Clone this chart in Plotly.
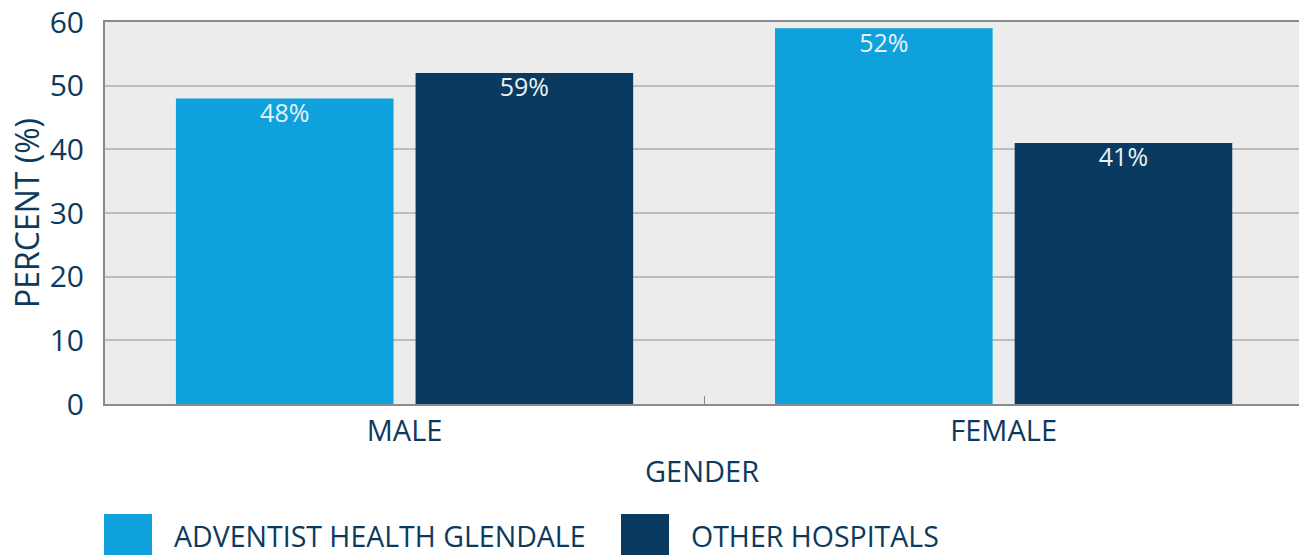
import plotly.graph_objects as go

categories = ["MALE", "FEMALE"]
series_names = ["ADVENTIST HEALTH GLENDALE", "OTHER HOSPITALS"]
adventist_values = [48, 59]
other_values = [52, 41]
adventist_labels = ["48%", "52%"]
other_labels = ["59%", "41%"]
y_ticks = [0, 10, 20, 30, 40, 50, 60]

colors = ["#0ea1dc", "#0a3a5f"]
text_color = "#0d3a5c"
font_family = "Open Sans, sans-serif"

W, H = 1299, 555
L, R, T, B = 105, 0, 22, 151
PW, PH = W - L - R, H - T - B

fig = go.Figure()
for gi, (name, vals, col) in enumerate([
    (series_names[0], adventist_values, colors[0]),
    (series_names[1], other_values, colors[1]),
]):
    fig.add_trace(go.Bar(
        x=categories, y=vals, name=name, marker_color=col,
        marker_line_width=0, offsetgroup=str(gi),
        showlegend=False,
    ))
for gi, (vals, labels) in enumerate([
    (adventist_values, adventist_labels),
    (other_values, other_labels),
]):
    fig.add_trace(go.Scatter(
        x=categories, y=vals, mode="markers+text", text=labels,
        textposition="bottom center", offsetgroup=str(gi),
        marker=dict(size=6, opacity=0),
        textfont=dict(color="#e9f1f6", size=25, family=font_family),
        showlegend=False, hoverinfo="skip", cliponaxis=False,
    ))

fig.update_layout(
    width=W, height=H,
    margin=dict(l=L, r=R, t=T, b=B),
    paper_bgcolor="white", plot_bgcolor="#ececec",
    barmode="group", bargap=0.2, bargroupgap=0.092,
    scattermode="group", scattergap=0.2,
    font=dict(family=font_family, color=text_color),
)
fig.update_xaxes(
    range=[-0.5, 1.493], showgrid=False, automargin=False,
    showline=True, linecolor="#8a8a8a", linewidth=2, mirror=True,
    ticks="inside", tickson="boundaries", ticklen=8, tickcolor="#8a8a8a",
    tickfont=dict(size=29, color=text_color),
    title=dict(text="GENDER", font=dict(size=29, color=text_color), standoff=14),
)
fig.update_yaxes(
    range=[0, 60], tickvals=y_ticks, ticklabeloverflow="allow", automargin=False,
    showgrid=True, gridcolor="#bdbdbd", gridwidth=2,
    showline=True, linecolor="#8a8a8a", linewidth=2,
    zeroline=False, ticks="", ticklabelstandoff=13,
    tickfont=dict(size=30, color=text_color),
    title=dict(text="PERCENT (%)", font=dict(size=32, color=text_color), standoff=0),
)

# legend drawn as big swatches
legend_x = [104, 621]
for i, (name, col) in enumerate(zip(series_names, colors)):
    x0 = legend_x[i]
    fig.add_shape(type="rect", xref="paper", yref="paper",
                  x0=(x0 - L) / PW, x1=(x0 + 48 - L) / PW,
                  y0=-(H + 5 - (T + PH)) / PH, y1=-(514 - (T + PH)) / PH,
                  fillcolor=col, line_width=0)
    fig.add_annotation(xref="paper", yref="paper",
                       x=(x0 + 68 - L) / PW, y=-(536 - (T + PH)) / PH,
                       xanchor="left", yanchor="middle", showarrow=False,
                       text=name, font=dict(size=28.5, color=text_color))

fig.write_html("out.html", config={"displayModeBar": False},
               post_script="document.body.style.margin='0';")
